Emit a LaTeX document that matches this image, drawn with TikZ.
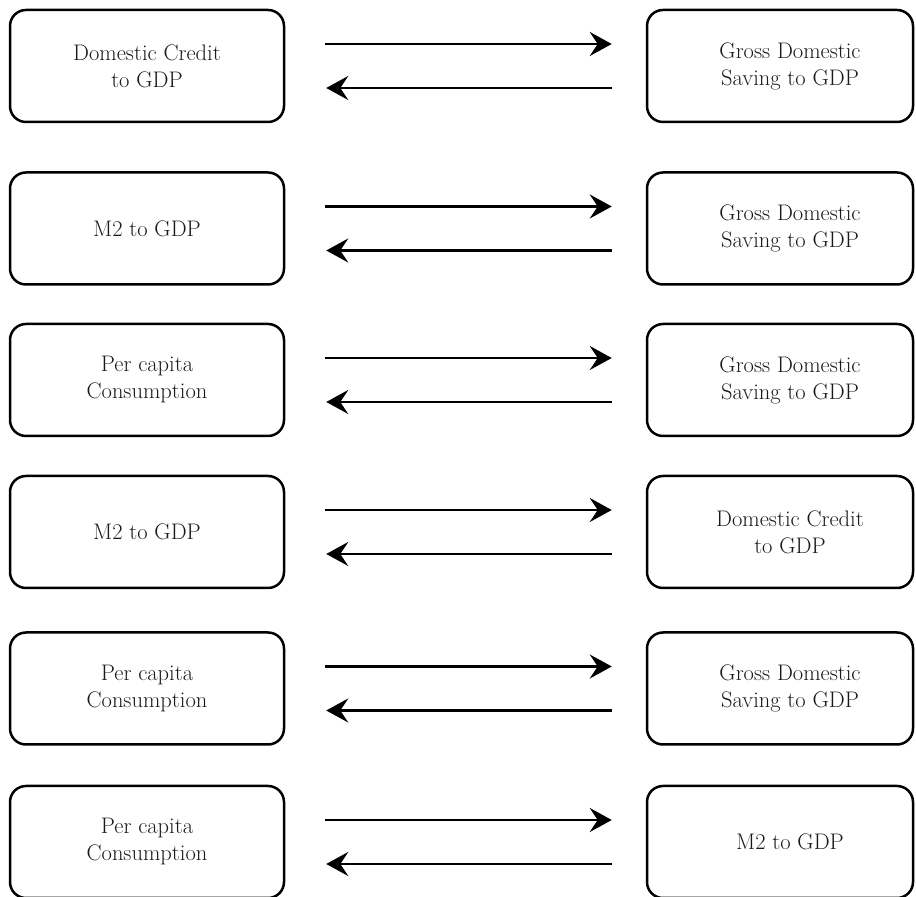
\documentclass[tikz,border=0pt]{standalone}
\usetikzlibrary{arrows.meta}
\definecolor{txt}{HTML}{1A1A1A}
\newcommand\boxfont{\fontsize{22.5}{27}\selectfont}
\tikzset{
  box/.style={draw, rounded corners=16pt, line width=2.5pt, minimum height=112pt,
    inner sep=0pt, align=center, font=\boxfont, text=txt},
  lbox/.style={box, minimum width=274pt},
  rbox/.style={box, minimum width=266pt},
  rtext/.style={align=center, font=\boxfont, text=txt, xshift=10pt, inner sep=0pt},
  arr/.style={line width=2.8pt, -{Stealth[length=22pt,width=24pt,inset=8pt]}},
}
\begin{document}
\begin{tikzpicture}
\useasboundingbox (0,0) rectangle (916pt,897pt);
% row 1
\node[lbox] (L1) at (147pt,831pt) {Domestic Credit\\to GDP};
\node[rbox, label={[rtext]center:{Gross Domestic\\Saving to GDP}}] (R1) at (780pt,831pt) {};
% row 2
\node[lbox] (L2) at (147pt,668.5pt) {M2 to GDP};
\node[rbox, label={[rtext]center:{Gross Domestic\\Saving to GDP}}] (R2) at (780pt,668.5pt) {};
% row 3
\node[lbox] (L3) at (147pt,517pt) {Per capita\\Consumption};
\node[rbox, label={[rtext]center:{Gross Domestic\\Saving to GDP}}] (R3) at (780pt,517pt) {};
% row 4
\node[lbox] (L4) at (147pt,365pt) {M2 to GDP};
\node[rbox, label={[rtext]center:{Domestic Credit\\to GDP}}] (R4) at (780pt,365pt) {};
% row 5
\node[lbox] (L5) at (147pt,208.5pt) {Per capita\\Consumption};
\node[rbox, label={[rtext]center:{Gross Domestic\\Saving to GDP}}] (R5) at (780pt,208.5pt) {};
% row 6
\node[lbox] (L6) at (147pt,55pt) {Per capita\\Consumption};
\node[rbox, label={[rtext]center:{M2 to GDP}}] (R6) at (780pt,55pt) {};
% arrows
\foreach \i in {1,...,6}{
  \draw[arr, shorten <=40pt, shorten >=34pt] ([yshift=22pt]L\i.east) -- ([yshift=22pt]R\i.west);
  \draw[arr, shorten <=34pt, shorten >=41pt] ([yshift=-22pt]R\i.west) -- ([yshift=-22pt]L\i.east);
}
\end{tikzpicture}
\end{document}
